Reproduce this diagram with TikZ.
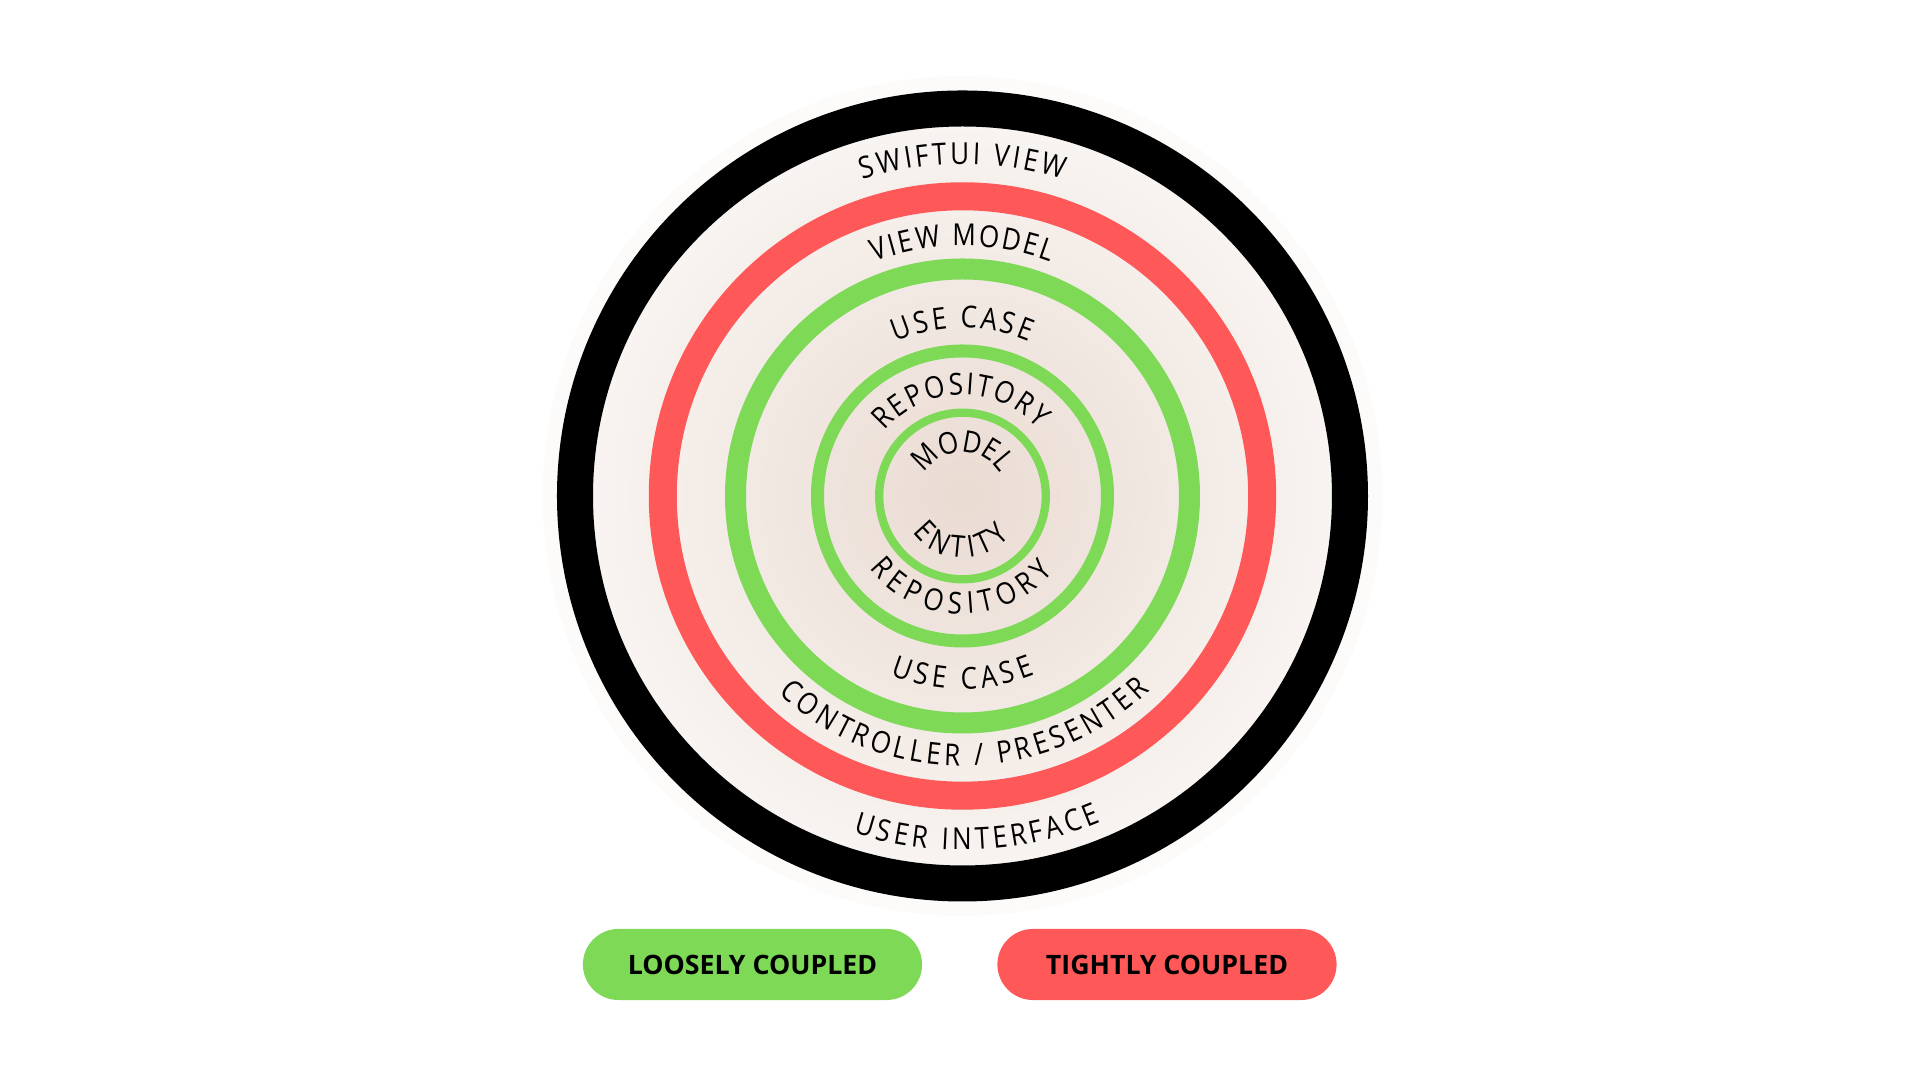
\documentclass[tikz,border=0pt]{standalone}
\usepackage{fontspec}
\setmainfont{Open Sans}
\usepackage{tikz}
\usetikzlibrary{decorations.text,shapes.misc}
\newfontfamily\ringfont[FakeStretch=0.86]{Open Sans}
\newcommand{\ringsize}{\ringfont\fontsize{8.6pt}{10pt}\selectfont}
\newcommand{\pillsize}{\fontsize{7.6pt}{9pt}\selectfont\bfseries}
\definecolor{loosegreen}{RGB}{126,217,87}
\definecolor{tightred}{RGB}{255,88,88}
\definecolor{bgin}{RGB}{234,219,210}
\definecolor{bgout}{RGB}{248,244,241}
\definecolor{halo}{RGB}{253,251,250}
\tikzset{
  ring/.style={draw=#1},
  ringlbl/.style={decorate,decoration={text along path,
    text={|\ringsize|#1},text align={fit to path}}},
  ringlblc/.style={decorate,decoration={text along path,
    text={|\ringsize|#1},text align=center}},
  pill/.style={rounded rectangle,minimum width=3.39cm,minimum height=0.71cm,
    inner sep=0pt,font=\pillsize,text=black},
}

\begin{document}
\begin{tikzpicture}[x=0.01cm,y=0.01cm]
  \useasboundingbox (-962.5,-584) rectangle (957.5,496);
  \coordinate (c) at (0,0);
  % soft background
  \fill[halo] (c) circle (420);
  \shade[inner color=bgin,outer color=bgout] (c) circle (372);
  % rings
  \draw[ring=black,line width=3.6mm] (c) circle (387.5);
  \draw[ring=tightred,line width=2.8mm] (c) circle (299.7);
  \draw[ring=loosegreen,line width=2.1mm] (c) circle (227);
  \draw[ring=loosegreen,line width=1.3mm] (c) circle (145);
  \draw[ring=loosegreen,line width=0.83mm] (c) circle (83.3);
  % upper labels
  \path[ringlbl={SWIFTUI VIEW}] (107.5:332) arc[start angle=107.5,end angle=72.5,radius=332];
  \path[ringlbl={VIEW MODEL}] (110.5:250) arc[start angle=110.5,end angle=69.5,radius=250];
  \path[ringlbl={USE CASE}] (113.3:168) arc[start angle=113.3,end angle=66.7,radius=168];
  \path[ringlbl={REPOSITORY}] (140:101) arc[start angle=140,end angle=42,radius=101];
  \path[ringlblc={MODEL}] (175:44) arc[start angle=175,end angle=5,radius=44];
  % lower labels
  \path[ringlbl={ENTITY}] (216:62) arc[start angle=216,end angle=320,radius=62];
  \path[ringlbl={REPOSITORY}] (218:118) arc[start angle=218,end angle=320,radius=118];
  \path[ringlbl={USE CASE}] (248:193) arc[start angle=248,end angle=292,radius=193];
  \path[ringlbl={CONTROLLER / PRESENTER}] (227:270) arc[start angle=227,end angle=314,radius=270];
  \path[ringlbl={USER INTERFACE}] (252:354) arc[start angle=252,end angle=293,radius=354];
  % legend
  \node[pill,fill=loosegreen] (loose) at (-210,-468.5) {LOOSELY COUPLED};
  \node[pill,fill=tightred] (tight) at (204.5,-468.5) {TIGHTLY COUPLED};
\end{tikzpicture}
\end{document}
